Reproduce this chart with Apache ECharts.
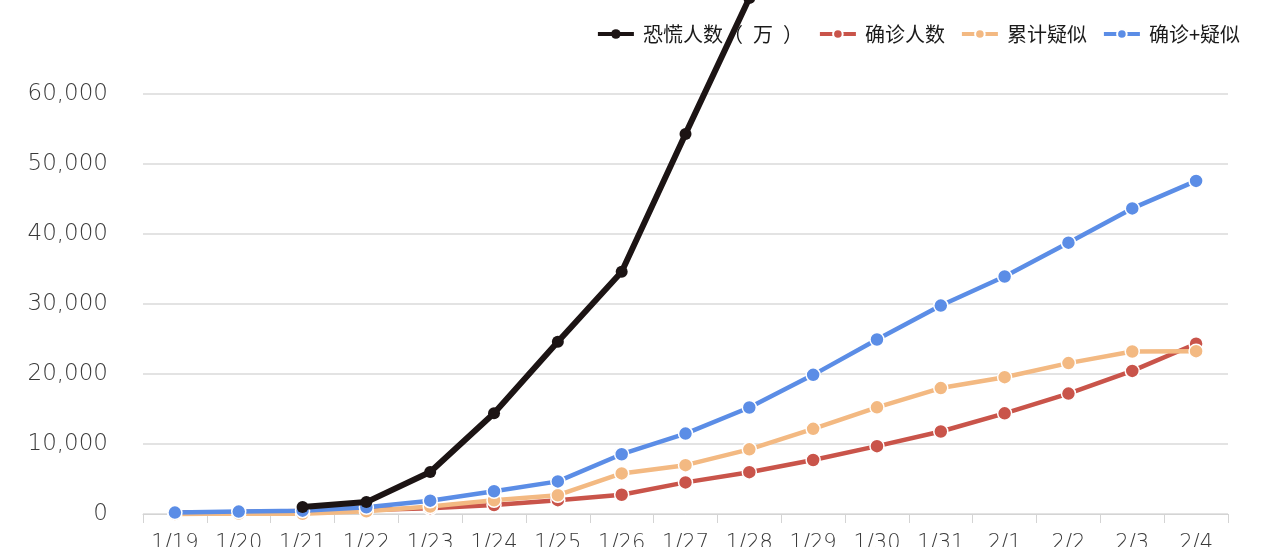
<!DOCTYPE html>
<html>
<head>
<meta charset="utf-8">
<script src="https://cdn.jsdelivr.net/npm/echarts@6/dist/echarts.min.js"></script>
<style>
  html, body { margin: 0; padding: 0; background: #fff; }
  #chart { width: 1280px; height: 547px; }
</style>
</head>
<body>
<div id="chart"></div>
<script>
const dates = ['1/19', '1/20', '1/21', '1/22', '1/23', '1/24', '1/25', '1/26', '1/27',
  '1/28', '1/29', '1/30', '1/31', '2/1', '2/2', '2/3', '2/4'];

// 恐慌人数（万）- only visible up to 1/28, rest runs off the top
const panic = [null, null, 1000, 1700, 6000, 14400, 24600, 34600, 54300, 73700,
  null, null, null, null, null, null, null];
const confirmed = [198, 291, 440, 571, 830, 1287, 1975, 2744, 4515, 5974, 7711,
  9692, 11791, 14380, 17205, 20438, 24324];
const suspected = [0, 54, 37, 393, 1072, 1965, 2684, 5794, 6973, 9239, 12167,
  15238, 17988, 19544, 21558, 23214, 23260];
const combined = [198, 345, 477, 964, 1902, 3252, 4659, 8538, 11488, 15213, 19878,
  24930, 29779, 33924, 38763, 43652, 47584];

const yTicks = [0, 10000, 20000, 30000, 40000, 50000, 60000];

const chart = echarts.init(document.getElementById('chart'));

function lineSeries(name, data, color, width, z, border) {
  return {
    name: name,
    type: 'line',
    data: data,
    z: z,
    clip: false,
    connectNulls: false,
    symbol: 'circle',
    symbolSize: border ? 14 : 12,
    lineStyle: { color: color, width: width },
    itemStyle: {
      color: color,
      borderColor: border ? '#fff' : color,
      borderWidth: border ? 1.5 : 0
    }
  };
}

chart.setOption({
  animation: false,
  grid: { left: 143, right: 52, top: 94, bottom: 33, outerBoundsMode: 'none' },
  legend: {
    top: 19,
    right: 35,
    itemWidth: 36,
    itemHeight: 12,
    itemGap: 15,
    lineStyle: { width: 4 },
    textStyle: {
      fontFamily: 'Noto Sans CJK SC',
      fontSize: 20,
      color: '#1a1a1a',
      padding: [0, 0, 0, 4]
    },
    // the original spaces the full-width brackets out
    formatter: name => name.replace('（', '（\u2002').replace('）', '\u2002）'),
    data: ['恐慌人数（万）', '确诊人数', '累计疑似', '确诊+疑似']
  },
  xAxis: {
    type: 'category',
    data: dates,
    boundaryGap: true,
    axisLine: { lineStyle: { color: '#d4d4d4', width: 1 } },
    axisTick: { show: true, length: 9, lineStyle: { color: '#d4d4d4' } },
    axisLabel: {
      margin: 19,
      fontFamily: '"DejaVu Sans", sans-serif',
      fontWeight: 300,
      fontSize: 21,
      color: '#3a3a3a'
    }
  },
  yAxis: {
    type: 'value',
    min: 0,
    max: yTicks[yTicks.length - 1],
    interval: 10000,
    axisLine: { show: false },
    axisTick: { show: false },
    splitLine: { lineStyle: { color: '#dadada', width: 1.5 } },
    axisLabel: {
      margin: 35,
      fontFamily: '"DejaVu Sans", sans-serif',
      fontWeight: 300,
      fontSize: 23,
      color: '#3a3a3a',
      formatter: v => v.toLocaleString('en-US')
    }
  },
  series: [
    lineSeries('恐慌人数（万）', panic, '#1c1414', 6, 6, false),
    lineSeries('确诊人数', confirmed, '#c9544a', 4.5, 3, true),
    lineSeries('累计疑似', suspected, '#f3b982', 4.5, 4, true),
    lineSeries('确诊+疑似', combined, '#5b8de6', 4.5, 5, true)
  ]
});
</script>
</body>
</html>
